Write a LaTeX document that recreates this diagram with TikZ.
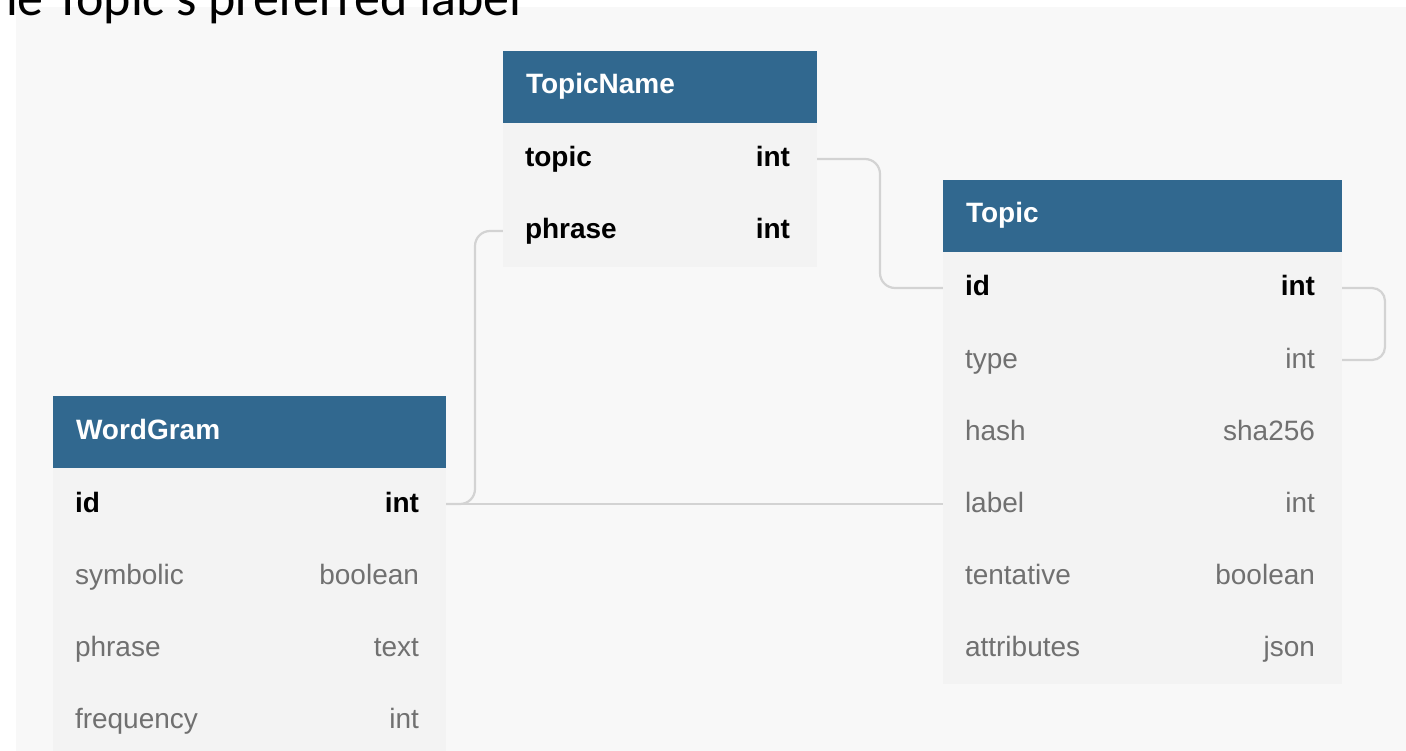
\documentclass[tikz,border=0pt]{standalone}
\usepackage{fontspec}
\setmainfont{Liberation Sans}
\newfontfamily\captionfont{Carlito}
\usetikzlibrary{calc}

\definecolor{panelbg}{HTML}{F8F8F8}
\definecolor{rowbg}{HTML}{F3F3F3}
\definecolor{headblue}{HTML}{31688F}
\definecolor{fieldgray}{HTML}{707070}
\definecolor{linkgray}{HTML}{D3D3D3}

\newcommand\tblfont{\fontsize{28}{34}\selectfont}

\tikzset{
  headbox/.style={fill=headblue, draw=none, inner sep=0pt, minimum height=72pt},
  rowbox/.style={fill=rowbg, draw=none, inner sep=0pt, minimum height=72pt},
  headtxt/.style={anchor=base west, inner sep=0pt, text=white, font=\tblfont\bfseries},
  keyname/.style={anchor=base west, inner sep=0pt, text=black, font=\tblfont\bfseries},
  keytype/.style={anchor=base east, inner sep=0pt, text=black, font=\tblfont\bfseries},
  plainname/.style={anchor=base west, inner sep=0pt, text=fieldgray, font=\tblfont},
  plaintype/.style={anchor=base east, inner sep=0pt, text=fieldgray, font=\tblfont},
  link/.style={draw=linkgray, line width=2.2pt, rounded corners=15pt},
}

% header bar of a table: name, centre, width, title
\newcommand\dbhead[4]{%
  \node[headbox, minimum width=#3pt] (#1) at #2 {};
  \node[headtxt] (#1-title) at ([xshift=23pt,yshift=-7pt]#1.west) {#4};
}
% one field row: name, centre, width, field, type, kind (key/plain)
\newcommand\dbrow[6]{%
  \node[rowbox, minimum width=#3pt] (#1) at #2 {};
  \node[#6name] (#1-f) at ([xshift=22pt,yshift=-8pt]#1.west) {#4};
  \node[#6type] (#1-t) at ([xshift=-27pt,yshift=-8pt]#1.east) {#5};
}

\begin{document}
\begin{tikzpicture}[x=1pt, y=-1pt]
  \useasboundingbox (0,0) rectangle (1406,751);
  \clip (0,0) rectangle (1406,751);

  % canvas
  \fill[panelbg] (16,7) rectangle (1406,751);

  % caption running off the top edge
  \node[anchor=base west, inner sep=0pt, font=\captionfont\fontsize{52}{60}\selectfont]
    (caption) at (-27,16) {the Topic\textquotesingle s preferred label};

  % TopicName
  \dbhead{tn}{(660,87)}{314}{TopicName}
  \dbrow{tn-topic}{(660,159)}{314}{topic}{int}{key}
  \dbrow{tn-phrase}{(660,231)}{314}{phrase}{int}{key}

  % Topic
  \dbhead{tp}{(1142.5,216)}{399}{Topic}
  \dbrow{tp-id}{(1142.5,288)}{399}{id}{int}{key}
  \dbrow{tp-type}{(1142.5,360)}{399}{type}{int}{plain}
  \dbrow{tp-hash}{(1142.5,432)}{399}{hash}{sha256}{plain}
  \dbrow{tp-label}{(1142.5,504)}{399}{label}{int}{plain}
  \dbrow{tp-tent}{(1142.5,576)}{399}{tentative}{boolean}{plain}
  \dbrow{tp-attr}{(1142.5,648)}{399}{attributes}{json}{plain}

  % WordGram
  \dbhead{wg}{(249.5,432)}{393}{WordGram}
  \dbrow{wg-id}{(249.5,504)}{393}{id}{int}{key}
  \dbrow{wg-sym}{(249.5,576)}{393}{symbolic}{boolean}{plain}
  \dbrow{wg-phrase}{(249.5,648)}{393}{phrase}{text}{plain}
  \dbrow{wg-freq}{(249.5,720)}{393}{frequency}{int}{plain}

  % relations
  \coordinate (bend1) at (880,0);
  \coordinate (bend2) at (475,0);
  \coordinate (bend3) at (1385,0);
  \draw[link] (tn-topic.east) -| (bend1 |- tp-id.west) -- (tp-id.west);
  \draw[link] (tn-phrase.west) -| (bend2 |- wg-id.east) -- (wg-id.east);
  \draw[link] (wg-id.east) -- (tp-label.west);
  \draw[link, rounded corners=13pt] (tp-id.east) -| (bend3 |- tp-type.east) -- (tp-type.east);
\end{tikzpicture}
\end{document}
